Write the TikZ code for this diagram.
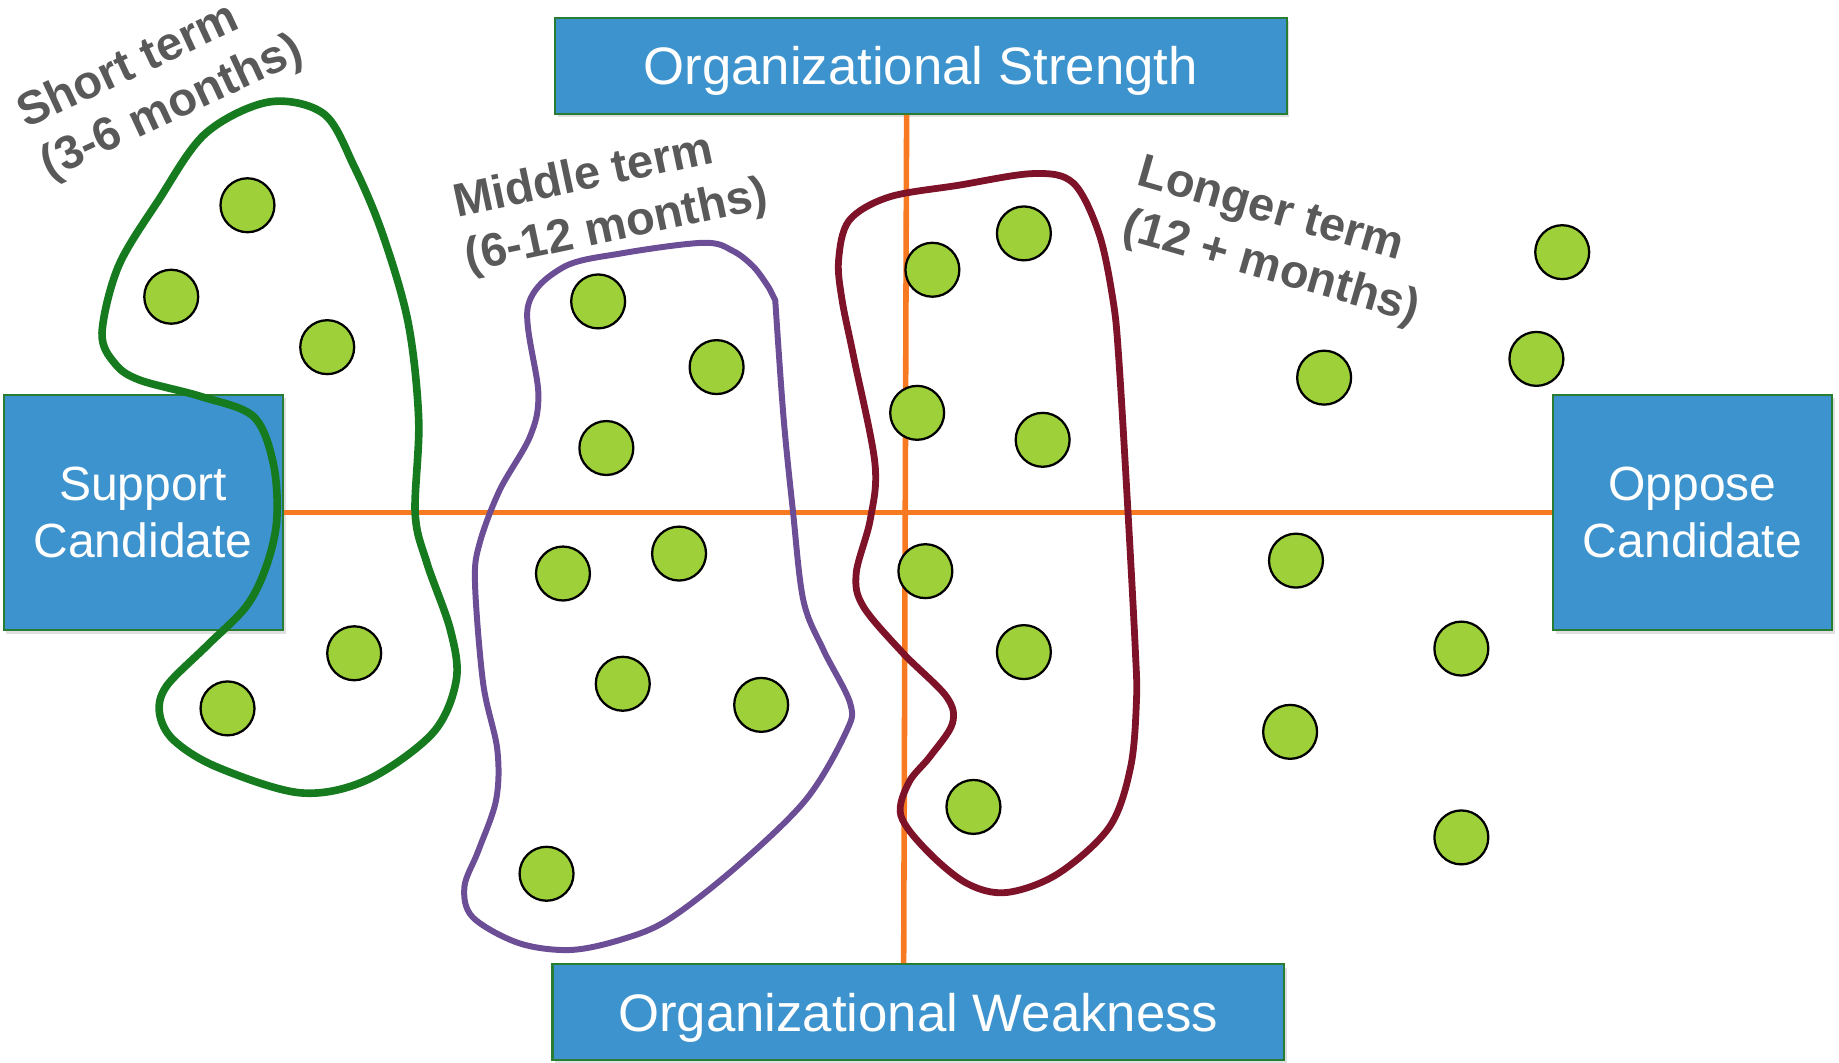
\documentclass[tikz,border=0pt]{standalone}
\usepackage{fontspec}
\setmainfont{Liberation Sans}
\usetikzlibrary{shadows}

\definecolor{boxblue}{RGB}{61,147,205}
\definecolor{boxedge}{RGB}{40,125,50}
\definecolor{axisorange}{RGB}{247,121,33}
\definecolor{dotgreen}{RGB}{157,208,57}
\definecolor{shortgreen}{RGB}{22,122,30}
\definecolor{midpurple}{RGB}{108,78,150}
\definecolor{longred}{RGB}{125,18,40}
\definecolor{labelgray}{RGB}{89,89,89}

\begin{document}
\begin{tikzpicture}[x=0.02cm, y=-0.02cm,
  box/.style={draw=boxedge, line width=1pt, fill=boxblue, text=white,
    inner sep=0pt, align=center,
    drop shadow={opacity=0.25, shadow xshift=0.05cm, shadow yshift=-0.06cm}},
  member/.style={circle, draw=black, line width=1.1pt, fill=dotgreen,
    minimum size=0.92cm, inner sep=0pt},
  lbl/.style={text=labelgray, align=left,
    font=\bfseries\fontsize{22.8}{27}\selectfont},
  axisline/.style={draw=axisorange, line width=2.7pt},
  termloop/.style={line width=3.3pt}]
\useasboundingbox (0,0) rectangle (1568,906);

% Axis boxes
\node[box, minimum width=12.48cm, minimum height=1.64cm, text depth=0pt,
  font=\fontsize{25.6}{30}\selectfont] (strength) at (785,56) {Organizational Strength};
\node[box, minimum width=12.48cm, minimum height=1.64cm, text depth=0pt,
  font=\fontsize{25.6}{30}\selectfont] (weakness) at (783,863) {Organizational Weakness};
\node[box, minimum width=4.76cm, minimum height=4.02cm,
  font=\fontsize{23.3}{27.9}\selectfont] (support) at (122,437) {Support\\Candidate};
\node[box, minimum width=4.76cm, minimum height=4.02cm,
  font=\fontsize{23.3}{27.9}\selectfont] (oppose) at (1443,437) {Oppose\\Candidate};

% Axes
\draw[axisline] (support.east) -- (oppose.west);
\draw[axisline] ([xshift=-0.24cm]strength.south) -- ([xshift=-0.25cm]weakness.north);

% Term groups
\draw[termloop, draw=shortgreen, line width=3.7pt] plot[smooth cycle, tension=0.55] coordinates {
  (229,87) (276,97) (302,142) (326,199) (348,275) (357,358) (354,438)
  (364,480) (384,537) (389,580) (369,625) (313,665) (256,676) (185,654)
  (148,631) (136,608) (142,585) (176,551) (210,517) (227,483) (236,443)
  (233,395) (216,355) (171,338) (119,324) (98,310) (87,284) (101,227)
  (135,171) (175,114)};
\draw[termloop, draw=midpurple, line width=2.9pt] plot[smooth, tension=0.55] coordinates {
  (661,256) (668,355) (676,435) (685,512) (702,554) (725,600) (721,625)
  (687,682) (628,739) (570,784) (530,801) (486,810) (442,804) (403,782)
  (396,756) (408,725) (423,682) (424,639) (412,583) (405,497) (409,463)
  (426,418) (452,372) (459,335) (450,262) (480,228) (530,216) (600,207)
  (625,214) (643,228) (656,246)} -- cycle;
\draw[termloop, draw=longred] plot[smooth cycle, tension=0.55] coordinates {
  (881,148) (915,156) (937,199) (949,256) (954,307) (962,441) (968,554)
  (969,597) (964,654) (946,705) (902,745) (858,761) (824,753) (790,725)
  (768,695) (775,667) (793,645) (812,617) (807,594) (770,557) (736,517)
  (730,489) (742,443) (746,395) (728,305) (718,256) (715,222) (724,188)
  (758,168) (817,158)};

% Members
\foreach \x/\y [count=\i] in {211/175, 146/253, 279/296, 302/557, 194/604}
  \node[member] (s\i) at (\x,\y) {};
\foreach \x/\y [count=\i] in {510/257, 611/313, 517/382, 480/489, 579/472,
    531/583, 649/601, 466/745}
  \node[member] (m\i) at (\x,\y) {};
\foreach \x/\y [count=\i] in {873/199, 795/230, 782/352, 889/375, 789/487,
    873/556, 830/688}
  \node[member] (l\i) at (\x,\y) {};
\foreach \x/\y [count=\i] in {1332/215, 1310/306, 1129/322, 1105/478,
    1246/553, 1100/624, 1246/714}
  \node[member] (o\i) at (\x,\y) {};

% Term labels
\node[lbl, rotate=25] (shortlbl) at (137,71) {Short term\\(3-6 months)};
\node[lbl, rotate=12] (midlbl) at (521,171) {Middle term\\(6-12 months)};
\node[lbl, rotate=-16] (longlbl) at (1090,207) {Longer term\\(12 + months)};
\end{tikzpicture}
\end{document}
